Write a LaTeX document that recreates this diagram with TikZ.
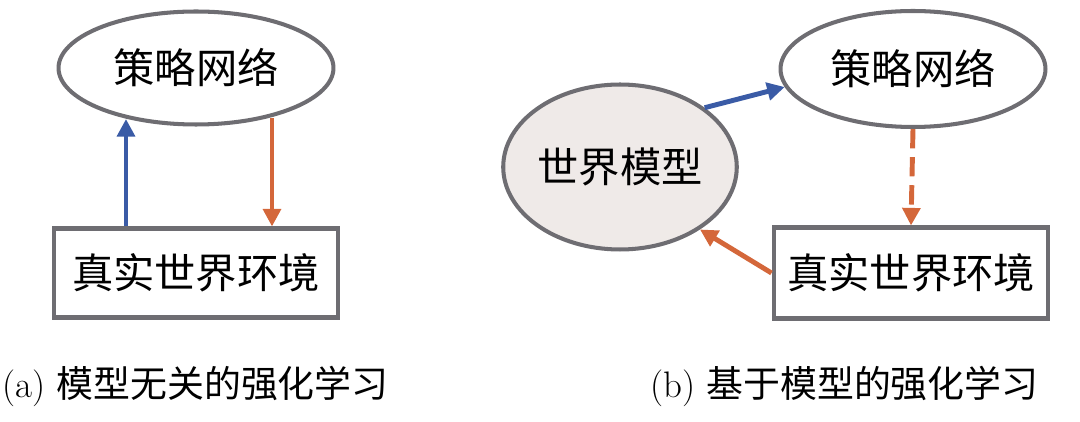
\documentclass[tikz,border=0pt]{standalone}
\usepackage{fontspec}
\newfontfamily\cjk{Noto Sans CJK SC}
\usetikzlibrary{shapes.geometric,arrows.meta}
\definecolor{edgegray}{HTML}{6E6D72}
\definecolor{arrblue}{HTML}{3A5BA6}
\definecolor{arrorange}{HTML}{D4673A}
\definecolor{wmfill}{HTML}{EFEAE8}
\tikzset{
  ell/.style={ellipse, draw=edgegray, line width=2.3pt, inner sep=0pt, font=\cjk\fontsize{23.5}{28}\selectfont},
  box/.style={rectangle, draw=edgegray, line width=2.3pt, inner sep=0pt, font=\cjk\fontsize{23.5}{28}\selectfont},
  arr/.style={line width=2.8pt, -{Triangle[length=10pt,width=10pt]}},
  captext/.style={font=\fontsize{21}{25}\selectfont, inner sep=0pt}
}
\begin{document}
\begin{tikzpicture}[x=0.02cm,y=-0.02cm]
\useasboundingbox (0,0) rectangle (1080,422);
% (a)
\node[ell, minimum width=5.5cm, minimum height=2.26cm] (pa) at (196,68) {策略网络};
\node[box, minimum width=5.7cm, minimum height=1.78cm] (ea) at (196,273) {真实世界环境};
\draw[arr, arrblue] (ea.north -| 126,0) -- (126,119);
\draw[arr, arrorange] (272,118) -- (ea.north -| 272,0);
\node[captext, anchor=west] (ca) at (2,386) {(a) {\cjk 模型无关的强化学习}};
% (b)
\node[ell, minimum width=5.3cm, minimum height=2.32cm] (pb) at (913,69) {策略网络};
\node[ell, fill=wmfill, minimum width=3.76cm, minimum height=3.3cm] (wm) at (620,167) {世界模型};
\node[box, minimum width=5.5cm, minimum height=1.82cm] (eb) at (911,273) {真实世界环境};
\draw[arr, arrblue] (wm.35) -- (pb.188);
\draw[arr, arrorange, dash pattern=on 11pt off 5pt] (pb.south) -- (eb.north);
\draw[arr, arrorange] (eb.west) -- (wm.-38);
\node[captext, anchor=west] (cb) at (650,386) {(b) {\cjk 基于模型的强化学习}};
\end{tikzpicture}
\end{document}
